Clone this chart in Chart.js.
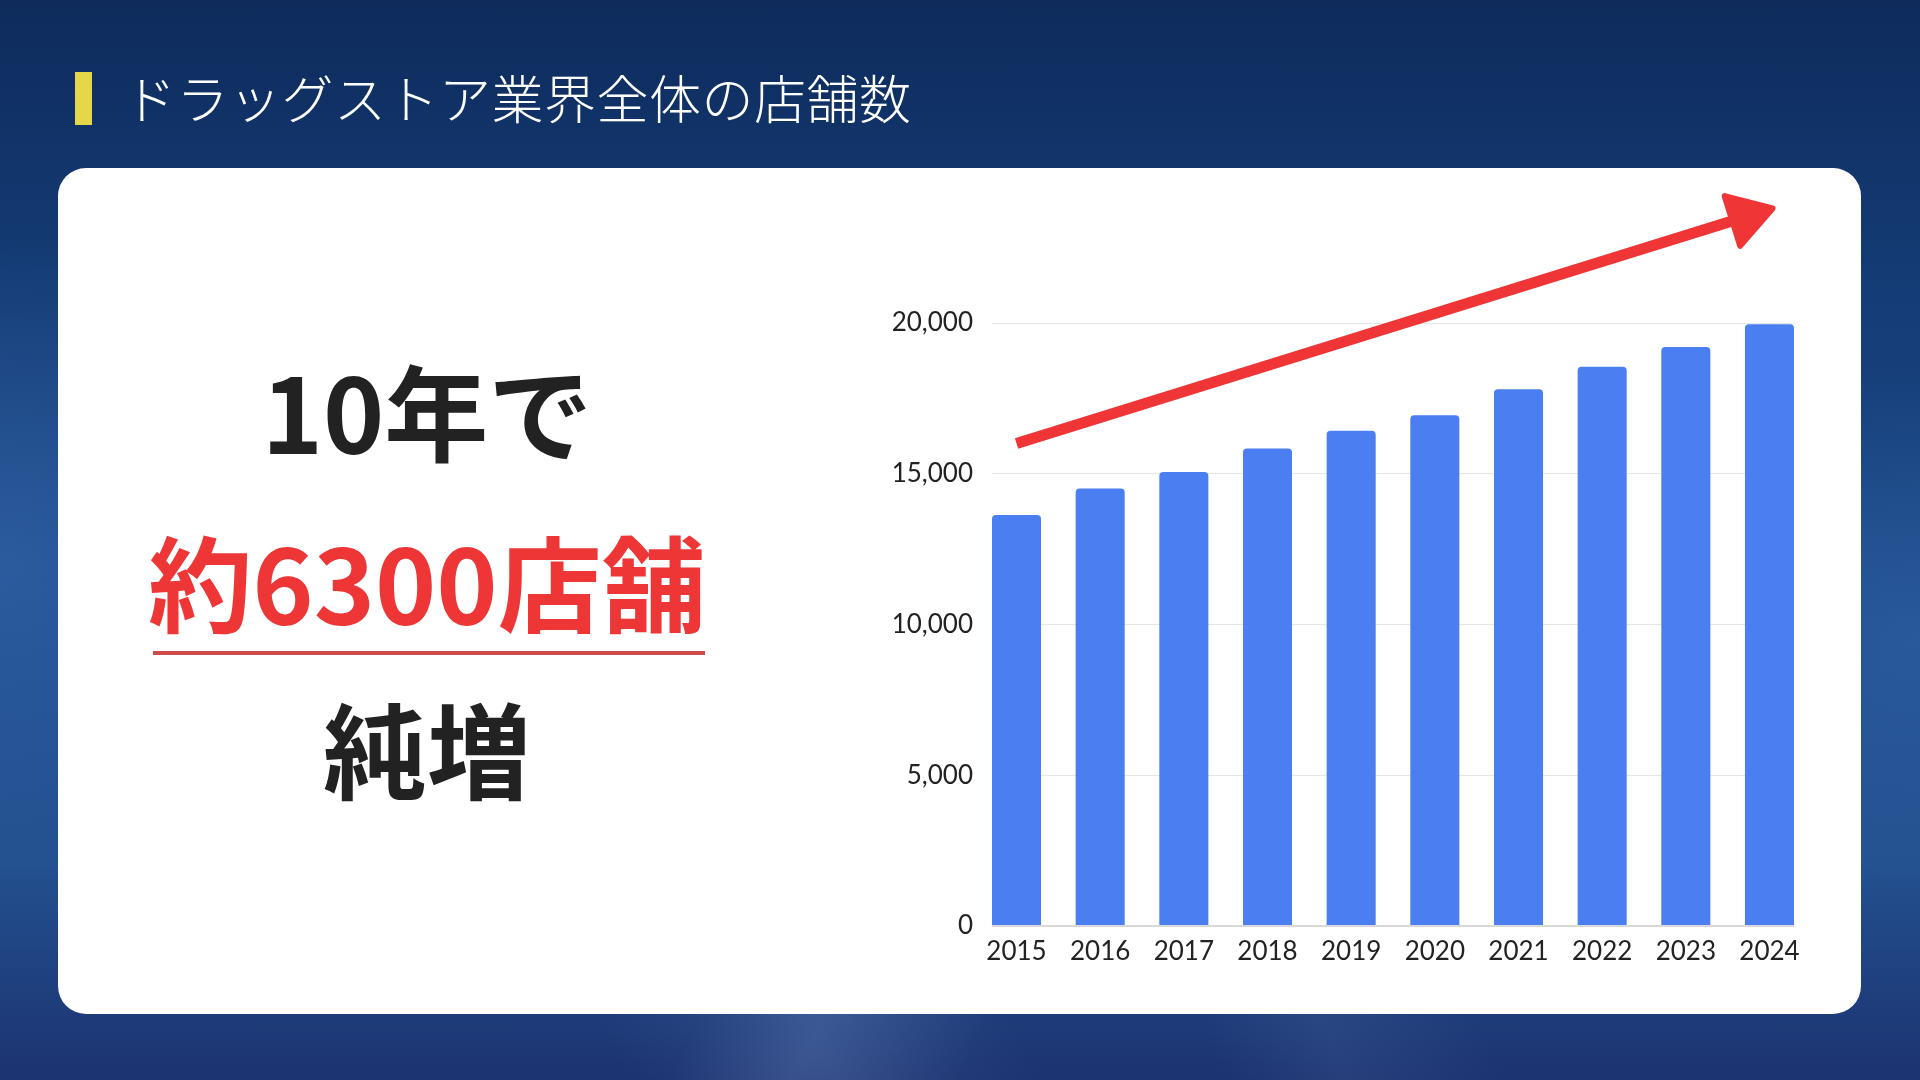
<!DOCTYPE html>
<html lang="ja">
<head>
<meta charset="utf-8">
<script src="https://cdn.jsdelivr.net/npm/chart.js@4.4.1/dist/chart.umd.min.js"></script>
<style>
  html, body { margin: 0; padding: 0; }
  body {
    width: 1920px; height: 1080px; overflow: hidden; position: relative;
    font-family: "Noto Sans CJK JP", "Noto Sans", sans-serif;
    background:
      linear-gradient(118deg, rgba(255,255,255,0) 40%, rgba(130,160,215,0.18) 46%, rgba(255,255,255,0) 54%) 0 760px / 1920px 320px no-repeat,
      linear-gradient(62deg, rgba(255,255,255,0) 30%, rgba(120,150,205,0.16) 40%, rgba(255,255,255,0) 50%) 0 760px / 1920px 320px no-repeat,
      linear-gradient(70deg, rgba(255,255,255,0) 60%, rgba(120,150,205,0.12) 66%, rgba(255,255,255,0) 74%) 0 760px / 1920px 320px no-repeat,
      radial-gradient(ellipse 420px 320px at 0px 560px, rgba(60,110,180,0.5), rgba(60,110,180,0)),
      radial-gradient(ellipse 380px 260px at 1920px 640px, rgba(60,110,180,0.4), rgba(60,110,180,0)),
      linear-gradient(180deg, #0e2b5c 0%, #143b74 25%, #1c4a89 55%, #23508f 80%, #1c3370 100%);
  }
  .bar-mark { position: absolute; left: 75px; top: 72px; width: 17px; height: 53px; background: #e6d64a; }
  .title {
    position: absolute; left: 124px; top: 62px; height: 70px; line-height: 70px;
    color: #fff; font-size: 52px; font-weight: 300; letter-spacing: 0.5px; white-space: nowrap;
  }
  .card {
    position: absolute; left: 58px; top: 168px; width: 1803px; height: 846px;
    background: #fff; border-radius: 28px;
  }
  .big {
    position: absolute; left: 77px; width: 700px; text-align: center;
    font-size: 104px; font-weight: 700; line-height: 104px; white-space: nowrap; color: #222;
  }
  .red { color: #ee3636; }
  .uline { position: absolute; left: 153px; top: 651px; width: 552px; height: 4px; background: #cf4a4a; }
  #wrap { position: absolute; left: 880px; top: 168px; width: 940px; height: 846px; }
</style>
</head>
<body>
<div class="bar-mark"></div>
<div class="title">ドラッグストア業界全体の店舗数</div>
<div class="card"></div>
<div class="big" style="top:357px;">10年で</div>
<div class="big red" style="top:528px;">約6300店舗</div>
<div class="uline"></div>
<div class="big" style="top:695px;">純増</div>
<div id="wrap"><canvas id="storeChart"></canvas></div>

<script>
// データ
const years = [2015, 2016, 2017, 2018, 2019, 2020, 2021, 2022, 2023, 2024];
const storeCounts = [13630, 14510, 15060, 15840, 16430, 16940, 17800, 18550, 19200, 19960];
const yTicks = [0, 5000, 10000, 15000, 20000];

// 矢印の始点・終点（y軸の値）
const arrowFrom = 16000;
const arrowTo = 23800;

const barShare = 0.586;

// 右肩上がりの矢印
const arrowPlugin = {
  id: 'trendArrow',
  afterDatasetsDraw(chart) {
    const { ctx, scales } = chart;
    const x0 = scales.x.getPixelForValue(years[0]);
    const y0 = scales.y.getPixelForValue(arrowFrom);
    const x1 = scales.x.getPixelForValue(years[years.length - 1]) + 3;
    const y1 = scales.y.getPixelForValue(arrowTo);
    const a = Math.atan2(y1 - y0, x1 - x0);
    const headLen = 42, headHalf = 26;
    const bx = x1 - headLen * Math.cos(a), by = y1 - headLen * Math.sin(a);
    const px = -Math.sin(a), py = Math.cos(a);

    ctx.save();
    ctx.strokeStyle = '#ef3535';
    ctx.fillStyle = '#ef3535';
    ctx.lineWidth = 11;
    ctx.lineCap = 'butt';
    ctx.beginPath();
    ctx.moveTo(x0, y0);
    ctx.lineTo(bx + 4 * Math.cos(a), by + 4 * Math.sin(a));
    ctx.stroke();

    ctx.lineWidth = 6;
    ctx.lineJoin = 'round';
    ctx.beginPath();
    ctx.moveTo(x1, y1);
    ctx.lineTo(bx + px * headHalf, by + py * headHalf);
    ctx.lineTo(bx - px * headHalf, by - py * headHalf);
    ctx.closePath();
    ctx.fill();
    ctx.stroke();
    ctx.restore();
  }
};

window.addEventListener('DOMContentLoaded', () => {
  const ctx = document.getElementById('storeChart').getContext('2d');

  new Chart(ctx, {
    type: 'bar',
    data: {
      datasets: [{
        data: years.map((y, i) => ({ x: y, y: storeCounts[i] })),
        backgroundColor: '#4a7ef1',
        borderRadius: 4,
        borderSkipped: 'start',
        barPercentage: barShare,
        categoryPercentage: 1
      }]
    },
    options: {
      responsive: true,
      maintainAspectRatio: false,
      animation: false,
      layout: { padding: { left: 0, right: 26, top: 155, bottom: 28 } },
      plugins: { legend: { display: false }, tooltip: { enabled: false } },
      scales: {
        x: {
          type: 'linear',
          offset: false,
          min: years[0] - barShare / 2,
          max: years[years.length - 1] + barShare / 2,
          afterBuildTicks: s => { s.ticks = years.map(v => ({ value: v })); },
          afterFit: s => { s.height = 60; },
          grid: { display: false },
          border: { display: false },
          ticks: {
            padding: 2,
            color: '#222',
            font: { family: 'Lato', size: 26 },
            callback: v => String(v)
          }
        },
        y: {
          min: 0,
          max: 20000,
          afterBuildTicks: s => { s.ticks = yTicks.map(v => ({ value: v })); },
          afterFit: s => { s.width = 112; },
          grid: {
            drawTicks: false,
            color: c => (c.tick && c.tick.value === 0 ? '#d8d8d8' : '#e6e6e6'),
            lineWidth: c => (c.tick && c.tick.value === 0 ? 2 : 1)
          },
          border: { display: false },
          ticks: {
            padding: 19,
            color: '#222',
            font: { family: 'Lato', size: 26 },
            callback: v => Number(v).toLocaleString('en-US')
          }
        }
      }
    },
    plugins: [arrowPlugin]
  });
});
</script>
</body>
</html>
